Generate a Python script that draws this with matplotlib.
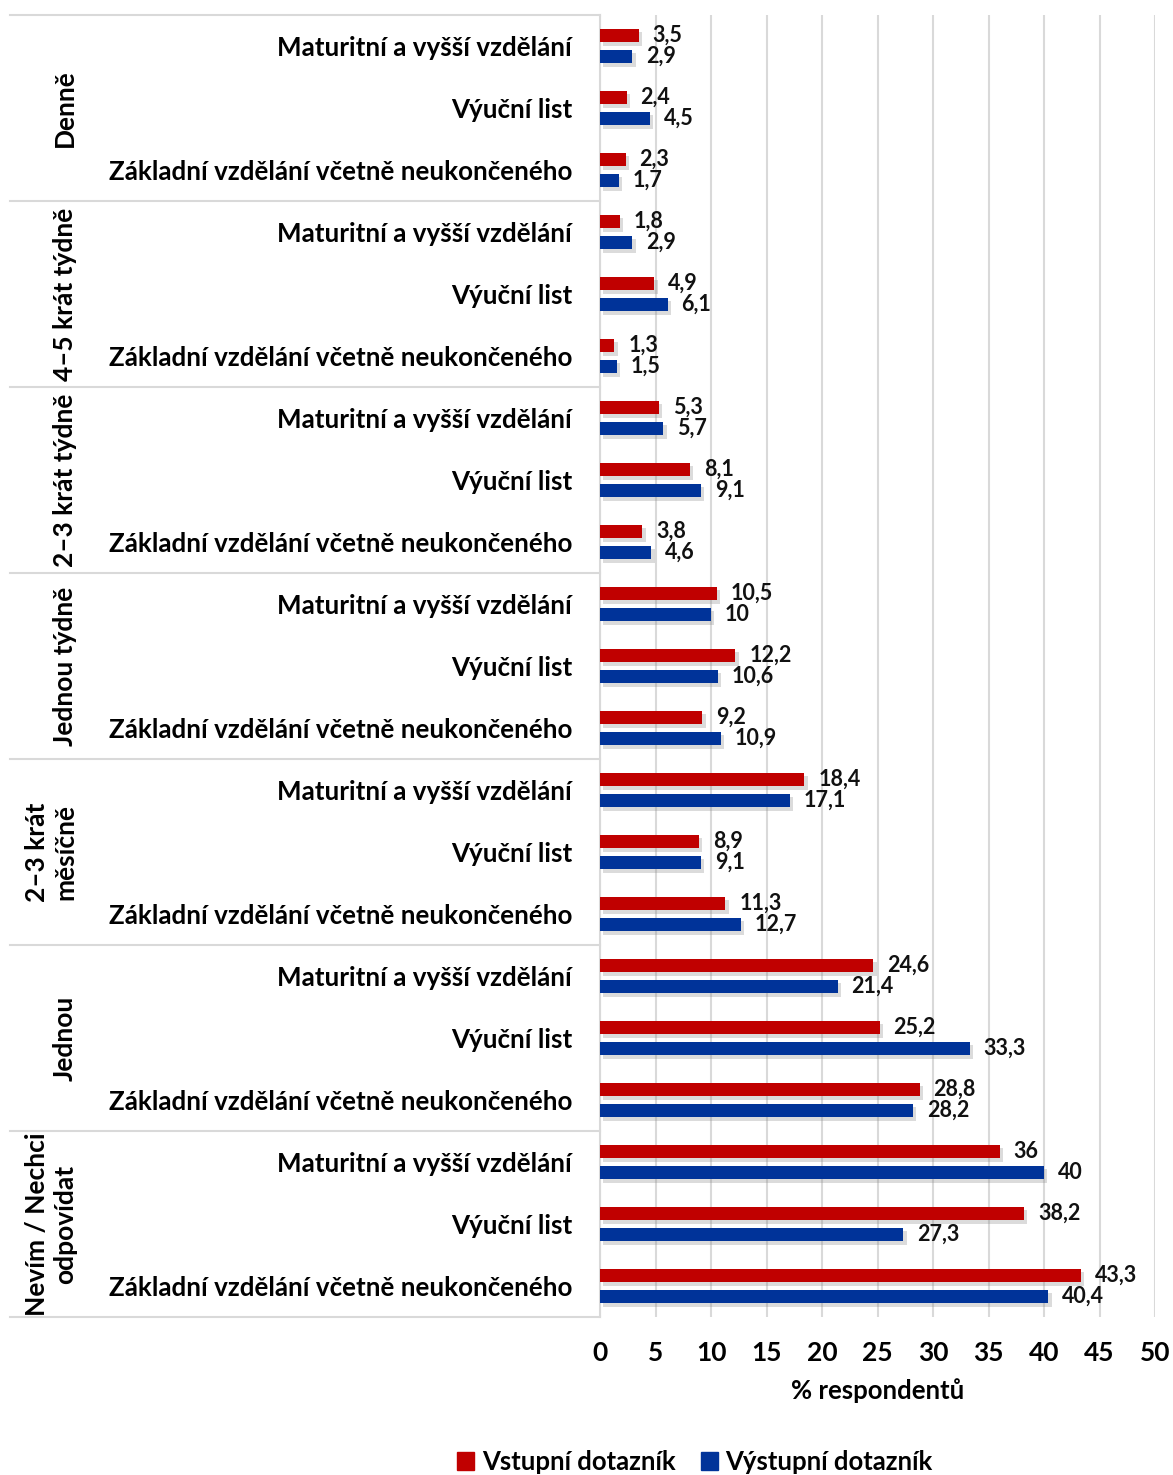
import matplotlib.pyplot as plt
import matplotlib.transforms as mtransforms
import matplotlib.patheffects as pe
from matplotlib.patches import Patch
import numpy as np

# ── Data ──────────────────────────────────────────────
groups = ["Denně", "4–5 krát týdně", "2–3 krát týdně", "Jednou týdně",
          "2–3 krát\nměsíčně", "Jednou", "Nevím / Nechci\nodpovídat"]
education = ["Maturitní a vyšší vzdělání", "Výuční list",
             "Základní vzdělání včetně neukončeného"]
vstupni = [3.5, 2.4, 2.3,
           1.8, 4.9, 1.3,
           5.3, 8.1, 3.8,
           10.5, 12.2, 9.2,
           18.4, 8.9, 11.3,
           24.6, 25.2, 28.8,
           36, 38.2, 43.3]
vystupni = [2.9, 4.5, 1.7,
            2.9, 6.1, 1.5,
            5.7, 9.1, 4.6,
            10, 10.6, 10.9,
            17.1, 9.1, 12.7,
            21.4, 33.3, 28.2,
            40, 27.3, 40.4]
series_names = ["Vstupní dotazník", "Výstupní dotazník"]
colors = ["#C00000", "#003399"]
xticks = list(range(0, 55, 5))

# ── Style ─────────────────────────────────────────────
plt.rcParams['font.family'] = ['Lato', 'DejaVu Sans']
plt.rcParams['font.weight'] = 'bold'
GRID = "#D9D9D9"

fig = plt.figure(figsize=(11.73, 14.75), dpi=100)
ax = fig.add_axes([600 / 1173, 1 - 1317 / 1475, 555 / 1173, 1302 / 1475])

n = len(vstupni)
y = np.arange(n)
off, h = 0.17, 0.22
shadow = [pe.SimplePatchShadow(offset=(2.5, -2.5), shadow_rgbFace='#888888', alpha=0.3),
          pe.Normal()]

for vals, sign, col in [(vstupni, -1, colors[0]), (vystupni, 1, colors[1])]:
    bars = ax.barh(y + sign * off, vals, height=h, color=col, zorder=3)
    for b in bars:
        b.set_path_effects(shadow)
    for yy, v in zip(y + sign * off, vals):
        txt = f"{v:g}".replace(".", ",")
        ax.annotate(txt, (v, yy), xytext=(10, 0), textcoords='offset points',
                    ha='left', va='center', fontsize=15.5, fontweight='bold',
                    color='#111111', zorder=4)

ax.set_xlim(0, 50)
ax.set_ylim(n - 0.5, -0.5)
ax.set_xticks(xticks)
ax.set_xticklabels([str(t) for t in xticks], fontsize=19, fontweight='bold')
ax.set_yticks(y)
ax.set_yticklabels(education * len(groups), fontsize=18.7, fontweight='bold')
ax.tick_params(axis='both', length=0)
ax.tick_params(axis='y', pad=20)
ax.tick_params(axis='x', pad=17)
ax.grid(axis='x', color=GRID, lw=1.5, zorder=0)
for s in ['top', 'right', 'bottom']:
    ax.spines[s].set_visible(False)
ax.spines['left'].set_color(GRID)
ax.spines['left'].set_linewidth(1.5)
ax.set_xlabel("% respondentů", fontsize=18.5, fontweight='bold', labelpad=10)

# group separators and labels to the left of the axis
trans = mtransforms.blended_transform_factory(ax.transAxes, ax.transData)
x_left = (10 - 600) / 555
for g in range(len(groups) + 1):
    yb = g * 3 - 0.5
    ax.plot([x_left, 0], [yb, yb], color=GRID, lw=1.5, transform=trans,
            clip_on=False, zorder=1)
for g, name in enumerate(groups):
    ax.text((77 - 600) / 555, g * 3 + 1, name, transform=trans, rotation=90,
            ha='right', va='center', multialignment='center',
            fontsize=19, fontweight='bold')

# legend
handles = [Patch(color=c, label=l) for c, l in zip(colors, series_names)]
fig.legend(handles=handles, loc='center', ncol=2, frameon=False,
           bbox_to_anchor=(695 / 1173, 1 - 1462 / 1475),
           fontsize=18.5, handlelength=0.65, handleheight=0.65,
           handletextpad=0.3, columnspacing=1.0)

plt.savefig("out.png", dpi=100)
